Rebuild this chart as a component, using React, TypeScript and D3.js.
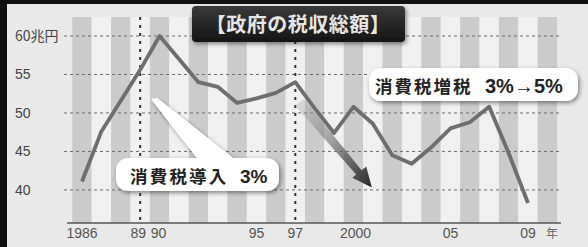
import React, { useEffect, useRef } from "react";
import * as d3 from "d3";

// 政府の税収総額 (兆円)
const years = [
  1986, 1987, 1988, 1989, 1990, 1991, 1992, 1993, 1994, 1995, 1996, 1997,
  1998, 1999, 2000, 2001, 2002, 2003, 2004, 2005, 2006, 2007, 2008, 2009,
];
const revenue = [
  41.1, 47.6, 51.6, 55.6, 60.0, 57.0, 54.0, 53.4, 51.3, 51.9, 52.6, 54.0,
  50.6, 47.4, 50.8, 48.6, 44.5, 43.4, 45.5, 48.0, 48.8, 50.8, 44.8, 38.3,
];
const stripeYears = d3.range(1986, 2011);
const yTicks = [40, 45, 50, 55, 60];
const yTickLabels = ["40", "45", "50", "55", "60兆円"];
const xTickYears = [1986, 1989, 1990, 1995, 1997, 2000, 2005, 2009];
const xTickLabels = ["1986", "89", "90", "95", "97", "2000", "05", "09"];
const markerYears = [1989, 1997];
const title = "【政府の税収総額】";
const note1 = "消費税導入";
const note1b = "3%";
const note2 = "消費税増税";
const note2b = "3%→5%";

const W = 588;
const H = 247;
const JP = "'Noto Sans CJK JP', 'Noto Sans', sans-serif";
const NUM = "'Liberation Sans', Arial, sans-serif";

const TaxChart = () => {
  const ref = useRef(null);

  useEffect(() => {
    const svg = d3.select(ref.current);
    svg.selectAll("*").remove();

    const x = d3.scaleLinear().domain([1986, 2009]).range([82, 528]);
    const y = d3.scaleLinear().domain([35.7, 60]).range([223, 36]);
    const step = x(1987) - x(1986);
    const top = 17;

    const defs = svg.append("defs");
    const sh = defs.append("filter").attr("id", "sh").attr("x", "-20%").attr("y", "-40%").attr("width", "140%").attr("height", "180%");
    sh.append("feDropShadow").attr("dx", 1.5).attr("dy", 2).attr("stdDeviation", 2).attr("flood-color", "#000").attr("flood-opacity", 0.45);
    const soft = defs.append("filter").attr("id", "soft");
    soft.append("feGaussianBlur").attr("stdDeviation", 0.5);

    const tg = defs.append("linearGradient").attr("id", "tg").attr("x1", 0).attr("y1", 0).attr("x2", 0).attr("y2", 1);
    tg.append("stop").attr("offset", 0).attr("stop-color", "#3a3a3a");
    tg.append("stop").attr("offset", 1).attr("stop-color", "#151515");

    const ag = defs.append("linearGradient").attr("id", "ag").attr("x1", 0).attr("y1", 0).attr("x2", 1).attr("y2", 1);
    ag.append("stop").attr("offset", 0).attr("stop-color", "#b0b0b0").attr("stop-opacity", 0.3);
    ag.append("stop").attr("offset", 1).attr("stop-color", "#262626");

    // frame: black top / left edge
    svg.append("rect").attr("width", W).attr("height", H).attr("fill", "#111");
    svg.append("rect").attr("x", 7).attr("y", 4).attr("width", W - 7).attr("height", H - 4).attr("fill", "#e9e9e9");

    // year stripes
    svg
      .append("g")
      .selectAll("rect")
      .data(stripeYears)
      .join("rect")
      .attr("x", (d) => x(d) - step / 2)
      .attr("y", top)
      .attr("width", step)
      .attr("height", y(35.7) - top)
      .attr("fill", (d) => (d % 2 === 0 ? "#cbcbcb" : "#f0f0f0"));

    // horizontal grid
    svg
      .append("g")
      .selectAll("line")
      .data(yTicks)
      .join("line")
      .attr("x1", 64)
      .attr("x2", 562)
      .attr("y1", (d) => y(d))
      .attr("y2", (d) => y(d))
      .attr("stroke", "#6a6a6a")
      .attr("stroke-width", 1)
      .attr("stroke-dasharray", "3,3");

    // marker lines (1989, 1997)
    svg
      .append("g")
      .selectAll("line")
      .data(markerYears)
      .join("line")
      .attr("x1", (d) => x(d))
      .attr("x2", (d) => x(d))
      .attr("y1", top)
      .attr("y2", y(35.7))
      .attr("stroke", "#333")
      .attr("stroke-width", 2)
      .attr("stroke-dasharray", "3,5");

    // baseline
    svg.append("line").attr("x1", 67).attr("x2", 561).attr("y1", y(35.7)).attr("y2", y(35.7)).attr("stroke", "#555").attr("stroke-width", 1.5);

    // y labels
    svg
      .append("g")
      .selectAll("text")
      .data(yTicks)
      .join("text")
      .attr("x", 15)
      .attr("y", (d) => y(d) + 5)
      .attr("font-family", (d, i) => (i === 4 ? JP : NUM))
      .attr("font-size", 14)
      .attr("fill", "#444")
      .text((d, i) => yTickLabels[i]);

    // x labels
    svg
      .append("g")
      .selectAll("text")
      .data(xTickYears)
      .join("text")
      .attr("x", (d) => x(d) + (d === 1989 ? -2 : d === 1990 ? -1 : d === 2000 ? 2 : 0))
      .attr("y", 238)
      .attr("text-anchor", "middle")
      .attr("font-family", NUM)
      .attr("font-size", 14)
      .attr("fill", "#555")
      .text((d, i) => xTickLabels[i]);
    svg.append("text").attr("x", 552).attr("y", 238).attr("text-anchor", "middle").attr("font-family", JP).attr("font-size", 12).attr("fill", "#666").text("年");

    // revenue line
    const line = d3
      .line()
      .x((d) => x(d[0]))
      .y((d) => y(d[1]));
    svg
      .append("path")
      .datum(years.map((yr, i) => [yr, revenue[i]]))
      .attr("fill", "none")
      .attr("stroke", "#6e6e6e")
      .attr("stroke-width", 3.8)
      .attr("stroke-linejoin", "round")
      .attr("filter", "url(#soft)")
      .attr("d", line);

    // dark arrow (1997 -> 2001)
    const a0 = [x(1997) + 6, y(51.6)];
    const a1 = [x(2001) - 1, y(40.3)];
    const dx = a1[0] - a0[0];
    const dy = a1[1] - a0[1];
    const len = Math.hypot(dx, dy);
    const ux = dx / len, uy = dy / len;
    const px = -uy, py = ux;
    const hb = [a1[0] - ux * 20, a1[1] - uy * 20];
    const pts = [
      [a0[0] + px * 8, a0[1] + py * 8],
      [hb[0] + px * 4, hb[1] + py * 4],
      [hb[0] + px * 9, hb[1] + py * 9],
      a1,
      [hb[0] - px * 9, hb[1] - py * 9],
      [hb[0] - px * 3, hb[1] - py * 3],
      [a0[0] - px * 3, a0[1] - py * 3],
    ];
    svg.append("polygon").attr("points", pts.map((p) => p.join(",")).join(" ")).attr("fill", "url(#ag)");

    // note 1 pointer + bubble
    const t1 = [x(1989) + 11, y(51.8)];
    const wedge = `${t1[0]},${t1[1]} ${t1[0] + 6},${t1[1] - 1} 238,162 200,162`;
    svg.append("polygon").attr("points", wedge).attr("fill", "#fff").attr("filter", "url(#sh)");
    svg.append("rect").attr("x", 116).attr("y", 158).attr("width", 163).attr("height", 33).attr("rx", 12).attr("fill", "#fff").attr("filter", "url(#sh)");
    svg.append("polygon").attr("points", wedge).attr("fill", "#fff");
    const n1 = svg.append("text").attr("x", 130).attr("y", 183).attr("font-family", JP).attr("font-weight", 700).attr("font-size", 17.5).attr("fill", "#222");
    n1.append("tspan").attr("letter-spacing", 2.2).text(note1);
    n1.append("tspan").attr("x", 240).attr("font-family", NUM).attr("font-size", 19).text(note1b);

    // note 2 bubble
    svg.append("rect").attr("x", 369).attr("y", 68).attr("width", 209).attr("height", 33).attr("rx", 12).attr("fill", "#fff").attr("filter", "url(#sh)");
    const n2 = svg.append("text").attr("x", 375).attr("y", 93).attr("font-family", JP).attr("font-weight", 700).attr("font-size", 17.5).attr("fill", "#222");
    n2.append("tspan").attr("letter-spacing", 2).text(note2);
    n2.append("tspan").attr("x", 485).attr("font-family", NUM).attr("font-size", 20).text(note2b);

    // title box
    svg.append("rect").attr("x", 192).attr("y", 6).attr("width", 213).attr("height", 36).attr("rx", 4).attr("fill", "url(#tg)").attr("filter", "url(#sh)");
    svg
      .append("text")
      .attr("x", 298)
      .attr("y", 32)
      .attr("text-anchor", "middle")
      .attr("font-family", JP)
      .attr("font-weight", 700)
      .attr("font-size", 20)
      .attr("letter-spacing", 0.5)
      .attr("fill", "#e6e6e6")
      .text(title);
  }, []);

  return (
    <svg
      ref={ref}
      width={W}
      height={H}
      style={{ position: "absolute", left: 0, top: 0, display: "block" }}
    ></svg>
  );
};

export default function App() {
  return <TaxChart />;
}
